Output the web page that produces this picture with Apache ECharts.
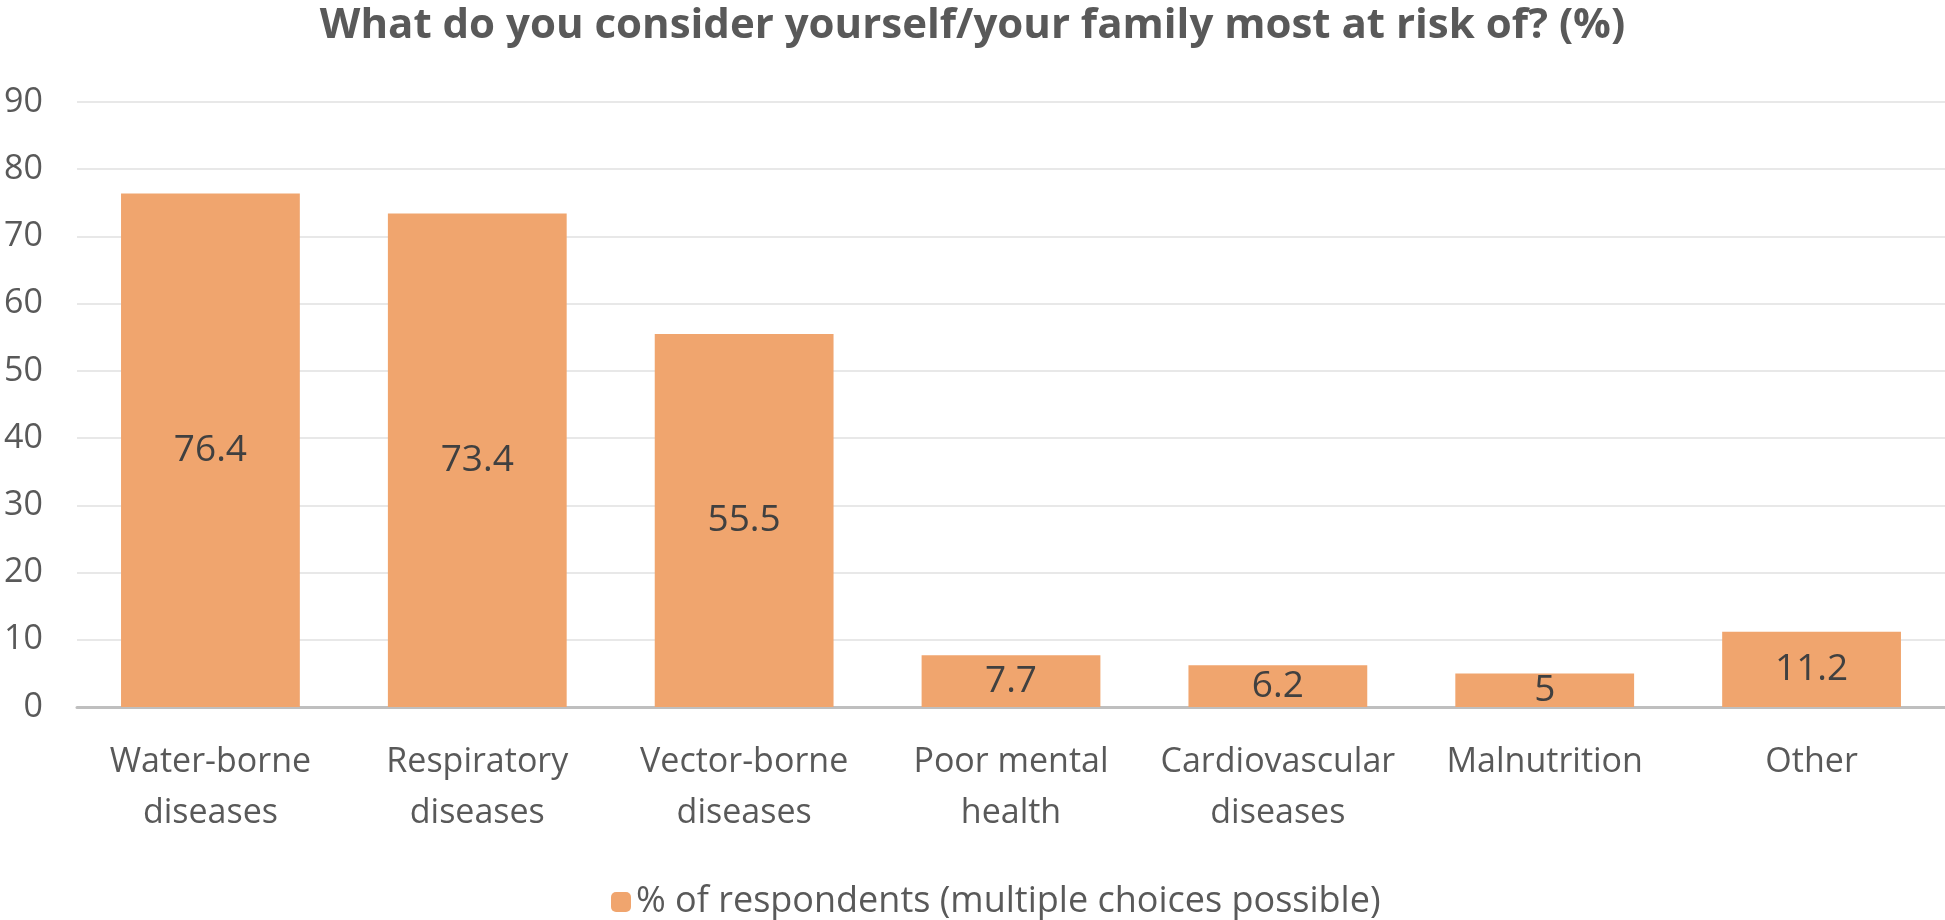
<!DOCTYPE html>
<html>
<head>
<meta charset="utf-8">
<script src="https://cdn.jsdelivr.net/npm/echarts@6/dist/echarts.min.js"></script>
<style>html,body{margin:0;padding:0;background:#fff}#c{width:1945px;height:920px}</style>
</head>
<body>
<div id="c"></div>
<script>
const categories = ["Water-borne\ndiseases", "Respiratory\ndiseases", "Vector-borne\ndiseases", "Poor mental\nhealth", "Cardiovascular\ndiseases", "Malnutrition", "Other"];
const values = [76.4, 73.4, 55.5, 7.7, 6.2, 5, 11.2];
const seriesName = "% of respondents (multiple choices possible)";
const titleText = "What do you consider yourself/your family most at risk of? (%)";
const yTicks = { min: 0, max: 90, interval: 10 };

const FONT = "Open Sans";
const chart = echarts.init(document.getElementById('c'), null, { renderer: 'canvas' });
chart.setOption({
  animation: false,
  backgroundColor: '#ffffff',
  title: {
    text: titleText,
    left: 'center',
    top: 0,
    textStyle: { fontFamily: FONT, fontWeight: 'bold', fontSize: 42, color: '#595959' }
  },
  legend: {
    top: 879,
    left: 606,
    itemWidth: 20,
    itemHeight: 20,
    itemGap: 10,
    textStyle: { fontFamily: FONT, fontSize: 36, color: '#595959' },
    data: [seriesName]
  },
  grid: { left: 77, right: 0, top: 102, bottom: 213, containLabel: false },
  xAxis: {
    type: 'category',
    data: categories,
    axisLine: { lineStyle: { color: '#BFBFBF', width: 3 } },
    axisTick: { show: false },
    axisLabel: { interval: 0, fontFamily: FONT, fontSize: 34, color: '#595959', lineHeight: 51, margin: 30 }
  },
  yAxis: {
    type: 'value',
    min: yTicks.min, max: yTicks.max, interval: yTicks.interval,
    axisLine: { show: false },
    axisTick: { show: false },
    splitLine: { lineStyle: { color: '#E8E8E8', width: 2 } },
    axisLabel: { fontFamily: FONT, fontSize: 34, color: '#595959', margin: 34 }
  },
  series: [{
    name: seriesName,
    type: 'bar',
    data: values,
    barCategoryGap: '33%',
    itemStyle: { color: '#F0A56E' },
    label: { show: true, position: 'inside', fontFamily: FONT, fontSize: 37, color: '#404040' }
  }]
});
</script>
</body>
</html>
